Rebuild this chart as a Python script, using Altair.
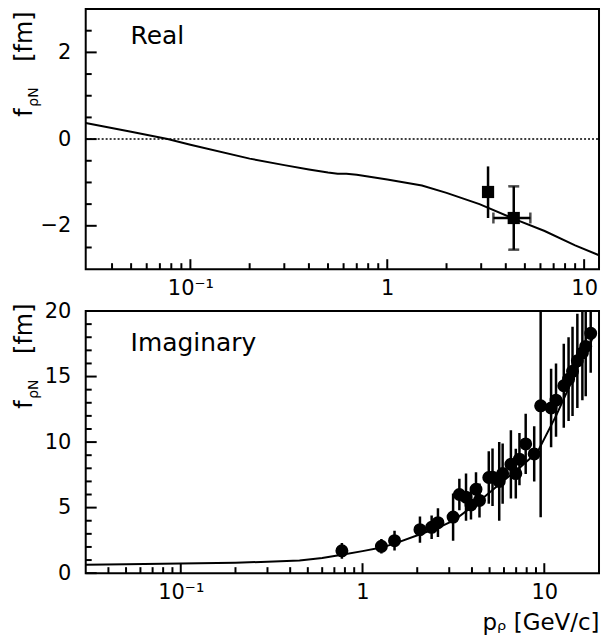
import math
import altair as alt
import pandas as pd

# ---------------- data ----------------
# Real part: model curve
real_curve_p = [0.0294, 0.05, 0.0766, 0.1, 0.2, 0.3, 0.4, 0.5, 0.56, 0.62, 0.7, 1.0, 1.5, 2.0, 2.94, 4.4, 6.3, 9.0, 11.9]
real_curve_f = [0.37, 0.17, 0.0, -0.13, -0.45, -0.60, -0.70, -0.77, -0.80, -0.80, -0.82, -0.93, -1.07, -1.24, -1.50, -1.84, -2.12, -2.45, -2.68]
# Real part: data points
real_pts_p = [3.25, 4.39]
real_pts_f = [-1.22, -1.82]
real_pts_lo = [-1.82, -2.55]
real_pts_hi = [-0.63, -1.09]
real_pts_plo = [3.46]
real_pts_phi = [5.33]

# Imaginary part: model curve
imag_curve_p = [0.03, 0.05, 0.1, 0.2, 0.3, 0.45, 0.6, 0.77, 1.0, 1.27, 1.5, 2.06, 2.6, 3.2, 4.4, 5.9, 7.4, 8.5, 9.3, 11.6, 13.5, 15.5, 18.0, 18.5]
imag_curve_f = [0.65, 0.68, 0.73, 0.80, 0.87, 0.97, 1.15, 1.40, 1.68, 1.95, 2.25, 2.95, 3.45, 4.05, 5.5, 7.0, 8.1, 8.85, 9.4, 12.0, 14.0, 15.9, 17.6, 18.0]
# Imaginary part: data points
imag_pts_p = [0.77, 1.27, 1.50, 2.07, 2.40, 2.60, 3.15, 3.41, 3.71, 3.95, 4.21, 4.40, 4.95, 5.19, 5.65, 5.90, 6.55, 6.97, 7.30, 7.90, 8.80, 9.55, 10.9, 11.6, 12.8, 13.6, 14.3, 15.2, 16.2, 16.9, 18.0]
imag_pts_f = [1.70, 2.05, 2.48, 3.32, 3.50, 3.85, 4.28, 6.00, 5.80, 5.20, 6.40, 5.55, 7.30, 7.32, 7.00, 7.60, 8.30, 7.60, 8.70, 9.86, 9.10, 12.77, 12.60, 13.20, 14.30, 14.80, 15.40, 16.20, 16.80, 17.30, 18.30]
imag_pts_err = [0.60, 0.55, 0.75, 1.00, 0.90, 1.10, 1.80, 1.20, 1.80, 1.10, 1.30, 1.30, 2.00, 2.20, 3.00, 2.30, 2.60, 1.90, 2.00, 2.30, 2.10, 8.50, 3.00, 2.80, 3.20, 3.20, 3.40, 3.60, 3.60, 3.80, 3.00]

# axis tick positions / labels
x_major = [0.1, 1, 10]
x_minor = [0.04, 0.05, 0.06, 0.07, 0.08, 0.09, 0.2, 0.3, 0.4, 0.5, 0.6, 0.7, 0.8, 0.9, 2, 3, 4, 5, 6, 7, 8, 9]
real_y_major = [-2, 0, 2]
real_y_minor = [-2.5, -1.5, -1, -0.5, 0.5, 1, 1.5, 2.5]
imag_y_major = [0, 5, 10, 15, 20]
imag_y_minor = [1, 2, 3, 4, 6, 7, 8, 9, 11, 12, 13, 14, 16, 17, 18, 19]
x_label_expr = "datum.value == 0.1 ? '10\u207b\u00b9' : datum.value == 1 ? '1' : '10'"

FONT = "DejaVu Sans"
W = 515
H_TOP = 261
H_BOT = 263


def text_layer(txt, x, y, size, angle=0):
    kw = dict(align="left", baseline="alphabetic", fontSize=size, font=FONT, color="black")
    if angle:
        kw["angle"] = angle
    return alt.Chart(pd.DataFrame({"t": [txt]})).mark_text(**kw).encode(
        text="t:N", x=alt.value(x), y=alt.value(y))


def build_panel(xdom, ydom, xax, yax, H, xminor, ymaj, ymin, main_layer, layers, label, label_y, ytitle_base):
    xs = alt.Scale(type="log", domain=xdom, nice=False)
    ys = alt.Scale(domain=ydom, nice=False, zero=False)
    X = lambda f: alt.X(f, scale=xs, axis=xax)
    Y = lambda f: alt.Y(f, scale=ys, axis=yax)
    y_per_px = (ydom[1] - ydom[0]) / H
    dec_per_px = (math.log10(xdom[1]) - math.log10(xdom[0])) / W
    out = [main_layer(X, Y)]
    # inward tick marks, drawn as short rules placed through the scales
    for vals, ln in ((x_major, 10), (xminor, 6)):
        df = pd.DataFrame({"v": vals})
        df["a"] = ydom[0]
        df["b"] = ydom[0] + ln * y_per_px
        out.append(alt.Chart(df).mark_rule(color="black", strokeWidth=2).encode(
            x=X("v:Q"), y=Y("a:Q"), y2="b:Q"))
    for vals, ln in ((ymaj, 11), (ymin, 6)):
        df = pd.DataFrame({"v": vals})
        df["a"] = xdom[0]
        df["b"] = xdom[0] * 10 ** (ln * dec_per_px)
        out.append(alt.Chart(df).mark_rule(color="black", strokeWidth=2).encode(
            y=Y("v:Q"), x=X("a:Q"), x2="b:Q"))
    out += layers(X, Y)
    out.append(text_layer(label, 45, label_y, 25))
    out.append(text_layer("f", -54, ytitle_base, 24, 270))
    out.append(text_layer("\u03c1N", -48, ytitle_base - 10, 14, 270))
    out.append(text_layer("[fm]", -54, ytitle_base - 55, 24, 270))
    return alt.layer(*out).properties(width=W, height=H)


# ---------------- top panel (Real) ----------------
x_axis_top = alt.Axis(values=x_major, labelExpr=x_label_expr, ticks=False, domain=False, grid=False,
                      labelPadding=8, title=None)
y_axis_top = alt.Axis(values=real_y_major, ticks=False, domain=False, grid=False, labelPadding=15, title=None)

real_curve = pd.DataFrame({"p": real_curve_p, "f": real_curve_f})
real_pts = pd.DataFrame({"p": real_pts_p, "f": real_pts_f, "lo": real_pts_lo, "hi": real_pts_hi})
real_xerr = pd.DataFrame({"f": [real_pts_f[1]], "plo": real_pts_plo, "phi": real_pts_phi})
real_zero = pd.DataFrame({"p": [0.0294, 11.9], "f": [0, 0]})


def real_main(X, Y):
    return alt.Chart(real_curve).mark_line(color="black", strokeWidth=2, clip=True).encode(x=X("p:Q"), y=Y("f:Q"))


def real_layers(X, Y):
    tk = dict(color="black", thickness=2.5, size=11)
    return [
        alt.Chart(real_zero).mark_line(color="black", strokeWidth=1.5, strokeDash=[2, 2]).encode(
            x=X("p:Q"), y=Y("f:Q")),
        alt.Chart(real_pts).mark_rule(color="black", strokeWidth=2.5).encode(x=X("p:Q"), y=Y("lo:Q"), y2="hi:Q"),
        alt.Chart(real_xerr).mark_rule(color="black", strokeWidth=2.5).encode(x=X("plo:Q"), x2="phi:Q", y=Y("f:Q")),
        alt.Chart(real_pts.iloc[[1]]).mark_tick(orient="horizontal", **tk).encode(x=X("p:Q"), y=Y("lo:Q")),
        alt.Chart(real_pts.iloc[[1]]).mark_tick(orient="horizontal", **tk).encode(x=X("p:Q"), y=Y("hi:Q")),
        alt.Chart(real_xerr).mark_tick(orient="vertical", **tk).encode(x=X("plo:Q"), y=Y("f:Q")),
        alt.Chart(real_xerr).mark_tick(orient="vertical", **tk).encode(x=X("phi:Q"), y=Y("f:Q")),
        alt.Chart(real_pts).mark_square(color="black", size=150, opacity=1).encode(x=X("p:Q"), y=Y("f:Q")),
    ]


top = build_panel([0.0294, 11.9], [-3, 3], x_axis_top, y_axis_top, H_TOP, [v for v in x_minor if v <= 11.9],
                  real_y_major, real_y_minor, real_main, real_layers, "Real", 35, 108)

# ---------------- bottom panel (Imaginary) ----------------
x_axis_bot = alt.Axis(values=x_major, labelExpr=x_label_expr, ticks=False, domain=False, grid=False,
                      labelPadding=8, title="p\u1d68  [GeV/c]", titleAnchor="end", titlePadding=10)
y_axis_bot = alt.Axis(values=imag_y_major, ticks=False, domain=False, grid=False, labelPadding=15, title=None)

imag_curve = pd.DataFrame({"p": imag_curve_p, "f": imag_curve_f})
imag_pts = pd.DataFrame({"p": imag_pts_p, "f": imag_pts_f, "e": imag_pts_err})
imag_pts["lo"] = imag_pts["f"] - imag_pts["e"]
imag_pts["hi"] = imag_pts["f"] + imag_pts["e"]


def imag_main(X, Y):
    return alt.Chart(imag_curve).mark_line(color="black", strokeWidth=2, clip=True).encode(x=X("p:Q"), y=Y("f:Q"))


def imag_layers(X, Y):
    return [
        alt.Chart(imag_pts).mark_rule(color="black", strokeWidth=2.5, clip=True).encode(
            x=X("p:Q"), y=Y("lo:Q"), y2="hi:Q"),
        alt.Chart(imag_pts).mark_circle(color="black", size=170, opacity=1, clip=True).encode(
            x=X("p:Q"), y=Y("f:Q")),
    ]


bottom = build_panel([0.03, 20], [0, 20], x_axis_bot, y_axis_bot, H_BOT, x_minor,
                     imag_y_major, imag_y_minor, imag_main, imag_layers, "Imaginary", 40, 98)

chart = alt.vconcat(top, bottom, spacing=42, bounds="flush").properties(
    padding={"left": 12, "top": 7, "right": 0, "bottom": 0}
).configure_view(stroke="black", strokeWidth=2).configure_axis(
    labelFont=FONT, labelFontSize=21, labelColor="black",
    titleFont=FONT, titleFontSize=23, titleColor="black", titleFontWeight="normal"
)

chart.save("out.html", embed_options={"renderer": "svg", "actions": False})
